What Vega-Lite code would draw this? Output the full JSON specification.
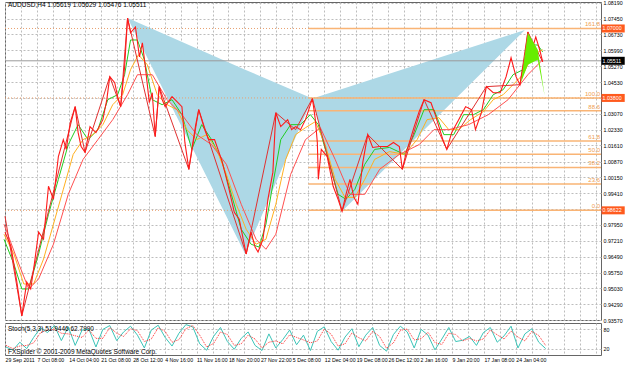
{
"$schema": "https://vega.github.io/schema/vega-lite/v6.json",
"padding": {"left": 1, "top": 0, "right": 0, "bottom": 0},
"background": "white",
"spacing": 3,
"bounds": "flush",
"config": {
  "view": {"stroke": "#666", "strokeWidth": 1},
  "font": "Liberation Sans",
  "axis": {"labelFont": "Liberation Sans", "labelFontSize": 5.3, "labelColor": "#000", "gridColor": "#bdbdbd", "gridDash": [2, 2], "domain": false, "ticks": false, "labelPadding": 2, "labelOverlap": false, "tickCount": 200}
},
"datasets": {
  "tri": [
    {"tri": "XAB", "x": 125, "top": 1.0748, "bot": 1.0748},
    {"tri": "XAB", "x": 244, "top": 1.0510, "bot": 0.9661},
    {"tri": "XAB", "x": 312, "top": 1.0377, "bot": 1.0377},
    {"tri": "BCD", "x": 312, "top": 1.0377, "bot": 1.0377},
    {"tri": "BCD", "x": 342, "top": 1.0421, "bot": 0.9858},
    {"tri": "BCD", "x": 527, "top": 1.0693, "bot": 1.0693}
  ],
  "wedge": [
    {"x": 523, "top": 1.0450, "bot": 1.0450},
    {"x": 530, "top": 1.0680, "bot": 1.0533},
    {"x": 540, "top": 1.0602, "bot": 1.0556},
    {"x": 547, "top": 1.0390, "bot": 1.0390}
  ],
  "fib": [
    {"lvl": "161.8", "p": 1.0700, "full": true},
    {"lvl": "100.0", "p": 1.0380, "full": true},
    {"lvl": "88.6", "p": 1.0321, "full": false},
    {"lvl": "61.8", "p": 1.0182, "full": false},
    {"lvl": "50.0", "p": 1.0121, "full": false},
    {"lvl": "38.2", "p": 1.0060, "full": false},
    {"lvl": "23.6", "p": 0.9984, "full": false},
    {"lvl": "0.0", "p": 0.98622, "full": true}
  ],
  "boxes": [
    {"p": 1.0700, "lab": "1.07000", "kind": "level"},
    {"p": 1.05511, "lab": "1.05511", "kind": "current"},
    {"p": 1.0380, "lab": "1.03800", "kind": "level"},
    {"p": 0.98622, "lab": "0.98622", "kind": "level"}
  ],
  "price": [
    {"x":1,"p":0.9762},{"x":7,"p":0.9697},{"x":13,"p":0.9532},{"x":18,"p":0.9376},{"x":23,"p":0.9532},{"x":27,"p":0.9500},{"x":30,"p":0.9592},{"x":35,"p":0.9762},{"x":40,"p":0.9729},{"x":45,"p":0.9973},{"x":50,"p":0.9913},{"x":55,"p":1.0110},{"x":60,"p":1.0188},{"x":63,"p":1.0143},{"x":67,"p":1.0266},{"x":72,"p":1.0340},{"x":75,"p":1.0220},{"x":78,"p":1.0156},{"x":82,"p":1.0129},{"x":87,"p":1.0248},{"x":93,"p":1.0220},{"x":100,"p":1.0280},{"x":104,"p":1.0372},{"x":107,"p":1.0478},{"x":112,"p":1.0450},{"x":115,"p":1.0386},{"x":118,"p":1.0340},{"x":122,"p":1.0523},{"x":125,"p":1.0748},{"x":128,"p":1.0680},{"x":133,"p":1.0707},{"x":137,"p":1.0569},{"x":140,"p":1.0634},{"x":143,"p":1.0523},{"x":147,"p":1.0358},{"x":150,"p":1.0404},{"x":153,"p":1.0202},{"x":157,"p":1.0432},{"x":160,"p":1.0372},{"x":163,"p":1.0340},{"x":170,"p":1.0386},{"x":175,"p":1.0363},{"x":180,"p":1.0340},{"x":183,"p":1.0175},{"x":187,"p":1.0051},{"x":190,"p":1.0143},{"x":194,"p":1.0257},{"x":197,"p":1.0326},{"x":203,"p":1.0234},{"x":207,"p":1.0188},{"x":213,"p":1.0188},{"x":220,"p":1.0097},{"x":224,"p":1.0028},{"x":227,"p":0.9973},{"x":233,"p":0.9853},{"x":238,"p":0.9821},{"x":242,"p":0.9729},{"x":245,"p":0.9661},{"x":250,"p":0.9762},{"x":254,"p":0.9693},{"x":257,"p":0.9670},{"x":262,"p":0.9729},{"x":267,"p":0.9913},{"x":272,"p":1.0037},{"x":275,"p":1.0312},{"x":280,"p":1.0248},{"x":287,"p":1.0280},{"x":291,"p":1.0234},{"x":295,"p":1.0248},{"x":300,"p":1.0234},{"x":305,"p":1.0280},{"x":312,"p":1.0377},{"x":315,"p":1.0280},{"x":317,"p":1.0175},{"x":318,"p":1.0005},{"x":321,"p":1.0143},{"x":327,"p":1.0110},{"x":333,"p":0.9973},{"x":338,"p":0.9913},{"x":342,"p":0.9858},{"x":346,"p":0.9936},{"x":350,"p":1.0005},{"x":354,"p":0.9922},{"x":358,"p":0.9890},{"x":363,"p":1.0083},{"x":368,"p":1.0211},{"x":373,"p":1.0152},{"x":380,"p":1.0156},{"x":388,"p":1.0156},{"x":394,"p":1.0175},{"x":400,"p":1.0156},{"x":403,"p":1.0051},{"x":407,"p":1.0129},{"x":411,"p":1.0188},{"x":415,"p":1.0248},{"x":420,"p":1.0317},{"x":425,"p":1.0372},{"x":432,"p":1.0358},{"x":437,"p":1.0294},{"x":440,"p":1.0248},{"x":444,"p":1.0188},{"x":448,"p":1.0143},{"x":453,"p":1.0221},{"x":460,"p":1.0280},{"x":467,"p":1.0340},{"x":473,"p":1.0326},{"x":477,"p":1.0234},{"x":483,"p":1.0312},{"x":488,"p":1.0432},{"x":495,"p":1.0404},{"x":502,"p":1.0404},{"x":508,"p":1.0478},{"x":513,"p":1.0565},{"x":518,"p":1.0478},{"x":522,"p":1.0441},{"x":527,"p":1.0569},{"x":530,"p":1.0684},{"x":535,"p":1.0615},{"x":538,"p":1.0661},{"x":542,"p":1.0601},{"x":545,"p":1.0546}
  ],
  "zz": [
    {"x":1,"p":0.9835},{"x":18,"p":0.9376},{"x":72,"p":1.0340},{"x":82,"p":1.0129},{"x":107,"p":1.0478},{"x":118,"p":1.0340},{"x":125,"p":1.0748},{"x":153,"p":1.0202},{"x":157,"p":1.0432},{"x":187,"p":1.0051},{"x":197,"p":1.0326},{"x":245,"p":0.9661},{"x":275,"p":1.0312},{"x":295,"p":1.0234},{"x":312,"p":1.0377},{"x":342,"p":0.9858},{"x":368,"p":1.0211},{"x":403,"p":1.0051},{"x":425,"p":1.0372},{"x":448,"p":1.0143},{"x":488,"p":1.0432},{"x":522,"p":1.0441},{"x":530,"p":1.0684},{"x":545,"p":1.0546}
  ],
  "ma": [
    {"s":"fast","x":0,"p":0.9729},{"s":"fast","x":10,"p":0.9615},{"s":"fast","x":18,"p":0.9500},{"s":"fast","x":25,"p":0.9500},{"s":"fast","x":35,"p":0.9661},{"s":"fast","x":45,"p":0.9844},{"s":"fast","x":55,"p":1.0005},{"s":"fast","x":65,"p":1.0165},{"s":"fast","x":75,"p":1.0257},{"s":"fast","x":85,"p":1.0188},{"s":"fast","x":95,"p":1.0234},{"s":"fast","x":105,"p":1.0372},{"s":"fast","x":115,"p":1.0395},{"s":"fast","x":122,"p":1.0487},{"s":"fast","x":128,"p":1.0647},{"s":"fast","x":135,"p":1.0647},{"s":"fast","x":142,"p":1.0556},{"s":"fast","x":150,"p":1.0372},{"s":"fast","x":160,"p":1.0349},{"s":"fast","x":170,"p":1.0372},{"s":"fast","x":180,"p":1.0303},{"s":"fast","x":190,"p":1.0143},{"s":"fast","x":200,"p":1.0257},{"s":"fast","x":210,"p":1.0188},{"s":"fast","x":220,"p":1.0097},{"s":"fast","x":230,"p":0.9936},{"s":"fast","x":240,"p":0.9775},{"s":"fast","x":250,"p":0.9706},{"s":"fast","x":258,"p":0.9693},{"s":"fast","x":265,"p":0.9798},{"s":"fast","x":272,"p":0.9982},{"s":"fast","x":280,"p":1.0188},{"s":"fast","x":290,"p":1.0257},{"s":"fast","x":300,"p":1.0257},{"s":"fast","x":310,"p":1.0303},{"s":"fast","x":318,"p":1.0257},{"s":"fast","x":328,"p":1.0097},{"s":"fast","x":338,"p":0.9936},{"s":"fast","x":346,"p":0.9913},{"s":"fast","x":355,"p":0.9959},{"s":"fast","x":365,"p":1.0074},{"s":"fast","x":375,"p":1.0143},{"s":"fast","x":390,"p":1.0152},{"s":"fast","x":405,"p":1.0120},{"s":"fast","x":415,"p":1.0211},{"s":"fast","x":425,"p":1.0326},{"s":"fast","x":435,"p":1.0326},{"s":"fast","x":445,"p":1.0211},{"s":"fast","x":455,"p":1.0211},{"s":"fast","x":465,"p":1.0303},{"s":"fast","x":475,"p":1.0303},{"s":"fast","x":485,"p":1.0326},{"s":"fast","x":495,"p":1.0395},{"s":"fast","x":505,"p":1.0418},{"s":"fast","x":515,"p":1.0487},{"s":"fast","x":525,"p":1.0510},{"s":"fast","x":532,"p":1.0624},{"s":"fast","x":540,"p":1.0624},{"s":"fast","x":545,"p":1.0592},
    {"s":"mid","x":0,"p":0.9752},{"s":"mid","x":10,"p":0.9661},{"s":"mid","x":20,"p":0.9523},{"s":"mid","x":30,"p":0.9523},{"s":"mid","x":40,"p":0.9638},{"s":"mid","x":50,"p":0.9798},{"s":"mid","x":60,"p":0.9959},{"s":"mid","x":70,"p":1.0120},{"s":"mid","x":80,"p":1.0188},{"s":"mid","x":90,"p":1.0211},{"s":"mid","x":100,"p":1.0257},{"s":"mid","x":110,"p":1.0349},{"s":"mid","x":120,"p":1.0395},{"s":"mid","x":128,"p":1.0510},{"s":"mid","x":136,"p":1.0579},{"s":"mid","x":145,"p":1.0533},{"s":"mid","x":155,"p":1.0395},{"s":"mid","x":165,"p":1.0349},{"s":"mid","x":175,"p":1.0326},{"s":"mid","x":185,"p":1.0234},{"s":"mid","x":195,"p":1.0188},{"s":"mid","x":205,"p":1.0211},{"s":"mid","x":215,"p":1.0143},{"s":"mid","x":225,"p":1.0028},{"s":"mid","x":235,"p":0.9890},{"s":"mid","x":245,"p":0.9775},{"s":"mid","x":255,"p":0.9706},{"s":"mid","x":265,"p":0.9729},{"s":"mid","x":275,"p":0.9890},{"s":"mid","x":285,"p":1.0097},{"s":"mid","x":295,"p":1.0211},{"s":"mid","x":305,"p":1.0243},{"s":"mid","x":315,"p":1.0271},{"s":"mid","x":325,"p":1.0165},{"s":"mid","x":335,"p":1.0005},{"s":"mid","x":345,"p":0.9922},{"s":"mid","x":355,"p":0.9922},{"s":"mid","x":365,"p":1.0005},{"s":"mid","x":375,"p":1.0097},{"s":"mid","x":390,"p":1.0133},{"s":"mid","x":405,"p":1.0120},{"s":"mid","x":418,"p":1.0188},{"s":"mid","x":428,"p":1.0280},{"s":"mid","x":440,"p":1.0289},{"s":"mid","x":450,"p":1.0234},{"s":"mid","x":460,"p":1.0234},{"s":"mid","x":472,"p":1.0280},{"s":"mid","x":485,"p":1.0317},{"s":"mid","x":495,"p":1.0372},{"s":"mid","x":505,"p":1.0395},{"s":"mid","x":515,"p":1.0441},{"s":"mid","x":525,"p":1.0487},{"s":"mid","x":535,"p":1.0579},{"s":"mid","x":545,"p":1.0602},
    {"s":"slow","x":0,"p":0.9798},{"s":"slow","x":15,"p":0.9615},{"s":"slow","x":25,"p":0.9500},{"s":"slow","x":35,"p":0.9546},{"s":"slow","x":50,"p":0.9706},{"s":"slow","x":65,"p":0.9936},{"s":"slow","x":80,"p":1.0097},{"s":"slow","x":95,"p":1.0188},{"s":"slow","x":110,"p":1.0280},{"s":"slow","x":125,"p":1.0395},{"s":"slow","x":135,"p":1.0487},{"s":"slow","x":150,"p":1.0487},{"s":"slow","x":165,"p":1.0372},{"s":"slow","x":180,"p":1.0303},{"s":"slow","x":195,"p":1.0211},{"s":"slow","x":210,"p":1.0165},{"s":"slow","x":225,"p":1.0074},{"s":"slow","x":240,"p":0.9890},{"s":"slow","x":255,"p":0.9729},{"s":"slow","x":265,"p":0.9683},{"s":"slow","x":275,"p":0.9752},{"s":"slow","x":290,"p":1.0028},{"s":"slow","x":305,"p":1.0188},{"s":"slow","x":320,"p":1.0243},{"s":"slow","x":335,"p":1.0097},{"s":"slow","x":350,"p":0.9936},{"s":"slow","x":365,"p":0.9936},{"s":"slow","x":380,"p":1.0051},{"s":"slow","x":400,"p":1.0120},{"s":"slow","x":420,"p":1.0165},{"s":"slow","x":435,"p":1.0234},{"s":"slow","x":450,"p":1.0234},{"s":"slow","x":470,"p":1.0257},{"s":"slow","x":490,"p":1.0303},{"s":"slow","x":510,"p":1.0372},{"s":"slow","x":530,"p":1.0487},{"s":"slow","x":545,"p":1.0556}
  ],
  "stoch": [
    {"x":2,"k":25,"d":30},{"x":9,"k":15,"d":20},{"x":16,"k":40,"d":28},{"x":23,"k":20,"d":30},{"x":30,"k":55,"d":38},{"x":37,"k":85,"d":70},{"x":44,"k":70,"d":78},{"x":51,"k":92,"d":80},{"x":58,"k":45,"d":68},{"x":65,"k":88,"d":66},{"x":72,"k":30,"d":60},{"x":79,"k":78,"d":55},{"x":86,"k":80,"d":78},{"x":93,"k":25,"d":52},{"x":100,"k":80,"d":52},{"x":107,"k":92,"d":86},{"x":114,"k":45,"d":68},{"x":121,"k":72,"d":58},{"x":128,"k":90,"d":82},{"x":135,"k":62,"d":76},{"x":142,"k":22,"d":42},{"x":149,"k":78,"d":50},{"x":156,"k":93,"d":85},{"x":163,"k":55,"d":74},{"x":170,"k":28,"d":40},{"x":177,"k":68,"d":48},{"x":184,"k":95,"d":82},{"x":191,"k":88,"d":92},{"x":198,"k":35,"d":62},{"x":205,"k":15,"d":25},{"x":212,"k":58,"d":36},{"x":219,"k":86,"d":72},{"x":226,"k":42,"d":64},{"x":233,"k":18,"d":30},{"x":240,"k":52,"d":35},{"x":247,"k":72,"d":62},{"x":254,"k":30,"d":50},{"x":261,"k":14,"d":22},{"x":268,"k":66,"d":40},{"x":275,"k":22,"d":44},{"x":282,"k":48,"d":35},{"x":289,"k":78,"d":63},{"x":296,"k":32,"d":55},{"x":303,"k":62,"d":47},{"x":310,"k":14,"d":38},{"x":317,"k":74,"d":44},{"x":324,"k":88,"d":81},{"x":331,"k":42,"d":65},{"x":338,"k":15,"d":28},{"x":345,"k":56,"d":35},{"x":352,"k":82,"d":69},{"x":359,"k":26,"d":54},{"x":366,"k":62,"d":44},{"x":373,"k":86,"d":74},{"x":380,"k":30,"d":58},{"x":387,"k":12,"d":21},{"x":394,"k":64,"d":38},{"x":401,"k":90,"d":77},{"x":408,"k":72,"d":81},{"x":415,"k":22,"d":47},{"x":422,"k":80,"d":51},{"x":429,"k":62,"d":71},{"x":436,"k":16,"d":39},{"x":443,"k":50,"d":33},{"x":450,"k":86,"d":68},{"x":457,"k":42,"d":64},{"x":464,"k":46,"d":44},{"x":471,"k":58,"d":52},{"x":478,"k":30,"d":44},{"x":485,"k":70,"d":50},{"x":492,"k":86,"d":78},{"x":499,"k":40,"d":63},{"x":506,"k":60,"d":50},{"x":513,"k":90,"d":75},{"x":520,"k":22,"d":56},{"x":527,"k":66,"d":44},{"x":534,"k":82,"d":74},{"x":541,"k":40,"d":61},{"x":548,"k":20,"d":30}
  ]
},
"vconcat": [
  {
    "width": 596,
    "height": 318,
    "layer": [
      {
        "data": {"name": "tri"},
        "mark": {"type": "area", "color": "#add8e6", "opacity": 1},
        "encoding": {
          "x": {"field": "x", "type": "quantitative", "title": null, "scale": {"domain": [1, 604], "nice": false, "zero": false},
                "axis": {"title": null, "orient": "bottom", "labels": false, "ticks": false, "grid": true, "minExtent": 0, "maxExtent": 0, "tickCount": 200,
                         "values": [1,17.15,33.3,49.45,65.6,81.75,97.9,114.05,130.2,146.35,162.5,178.65,194.8,210.95,227.1,243.25,259.4,275.55,291.7,307.85,324,340.15,356.3,372.45,388.6,404.75,420.9,437.05,453.2,469.35,485.5,501.65,517.8,533.95,550.1,566.25,582.4,598.55]}},
          "y": {"field": "top", "type": "quantitative", "title": null, "scale": {"domain": [0.9357, 1.0822], "nice": false, "zero": false},
                "axis": {"title": null, "orient": "right", "format": ".5f", "grid": true, "labelBaseline": "middle", "labelOverlap": false, "labelBound": false, "labelFlush": false, "tickCount": 200,
                         "values": [0.9357,0.9429,0.9503,0.9575,0.9649,0.9721,0.9795,0.9867,0.9941,1.0015,1.0087,1.0161,1.0233,1.0307,1.0379,1.0453,1.0527,1.0599,1.0673,1.0745,1.0819]}},
          "y2": {"field": "bot"},
          "detail": {"field": "tri"}
        }
      },
      {
        "data": {"name": "fib"},
        "transform": [{"filter": "datum.full"}],
        "mark": {"type": "rule", "color": "#e8a070", "strokeDash": [1, 2], "strokeWidth": 1},
        "encoding": {
          "x": {"datum": 1, "type": "quantitative", "title": null},
          "x2": {"datum": 604},
          "y": {"field": "p", "type": "quantitative", "title": null}
        }
      },
      {
        "data": {"name": "fib"},
        "mark": {"type": "rule", "color": "#f9b475", "strokeWidth": 1.5},
        "encoding": {
          "x": {"datum": 308, "type": "quantitative", "title": null},
          "x2": {"datum": 604},
          "y": {"field": "p", "type": "quantitative", "title": null}
        }
      },
      {
        "data": {"name": "fib"},
        "mark": {"type": "text", "color": "#f0a050", "fontSize": 6, "align": "right", "baseline": "bottom", "dy": -1},
        "encoding": {
          "x": {"datum": 603, "type": "quantitative", "title": null},
          "y": {"field": "p", "type": "quantitative", "title": null},
          "text": {"field": "lvl"}
        }
      },
      {
        "data": {"values": [{"p": 1.05511}]},
        "mark": {"type": "rule", "color": "#9a9a9a", "strokeWidth": 1},
        "encoding": {
          "x": {"datum": 1, "type": "quantitative", "title": null},
          "x2": {"datum": 604},
          "y": {"field": "p", "type": "quantitative", "title": null}
        }
      },
      {
        "data": {"name": "ma"},
        "mark": {"type": "line", "strokeWidth": 1},
        "encoding": {
          "x": {"field": "x", "type": "quantitative", "title": null},
          "y": {"field": "p", "type": "quantitative", "title": null},
          "color": {"field": "s", "type": "nominal", "legend": null, "scale": {"domain": ["fast", "mid", "slow"], "range": ["#22cc22", "#ffb020", "#ff5050"]}}
        }
      },
      {
        "data": {"name": "zz"},
        "mark": {"type": "line", "color": "#e03030", "strokeWidth": 1},
        "encoding": {
          "x": {"field": "x", "type": "quantitative", "title": null},
          "y": {"field": "p", "type": "quantitative", "title": null}
        }
      },
      {
        "data": {"name": "price"},
        "mark": {"type": "line", "color": "#ff1a1a", "strokeWidth": 1.1},
        "encoding": {
          "x": {"field": "x", "type": "quantitative", "title": null},
          "y": {"field": "p", "type": "quantitative", "title": null}
        }
      },
      {
        "data": {"name": "wedge"},
        "mark": {"type": "area", "color": "#66ee00", "opacity": 1},
        "encoding": {
          "x": {"field": "x", "type": "quantitative", "title": null},
          "y": {"field": "top", "type": "quantitative", "title": null},
          "y2": {"field": "bot"}
        }
      },
      {
        "data": {"values": [{"t": "AUDUSD,H4  1.05619 1.05629 1.05476 1.05511"}]},
        "mark": {"type": "text", "fontSize": 6.5, "align": "left", "baseline": "middle", "color": "#000"},
        "encoding": {
          "x": {"datum": 4, "type": "quantitative", "title": null},
          "y": {"datum": 1.0807, "type": "quantitative", "title": null},
          "text": {"field": "t"}
        }
      },
      {
        "data": {"name": "boxes"},
        "transform": [{"filter": "datum.kind == 'level'"}],
        "mark": {"type": "rule", "strokeWidth": 8, "strokeCap": "butt", "color": "#ff5a1e"},
        "encoding": {
          "x": {"datum": 604.5, "type": "quantitative", "title": null},
          "x2": {"datum": 628},
          "y": {"field": "p", "type": "quantitative", "title": null}
        }
      },
      {
        "data": {"name": "boxes"},
        "transform": [{"filter": "datum.kind == 'current'"}],
        "mark": {"type": "rule", "strokeWidth": 8, "strokeCap": "butt", "color": "#000000"},
        "encoding": {
          "x": {"datum": 604.5, "type": "quantitative", "title": null},
          "x2": {"datum": 628},
          "y": {"field": "p", "type": "quantitative", "title": null}
        }
      },
      {
        "data": {"name": "boxes"},
        "mark": {"type": "text", "fontSize": 5.3, "align": "left", "baseline": "middle", "color": "#ffffff"},
        "encoding": {
          "x": {"datum": 605.5, "type": "quantitative", "title": null},
          "y": {"field": "p", "type": "quantitative", "title": null},
          "text": {"field": "lab"}
        }
      }
    ]
  },
  {
    "width": 596,
    "height": 32,
    "layer": [
      {
        "data": {"name": "stoch"},
        "mark": {"type": "line", "color": "#3cc4b8", "strokeWidth": 1},
        "encoding": {
          "x": {"field": "x", "type": "quantitative", "title": null, "scale": {"domain": [1, 604], "nice": false, "zero": false},
                "axis": {"title": null, "orient": "bottom", "grid": true, "ticks": false, "labelAlign": "left", "labelBaseline": "top", "labelFlush": false, "labelOverlap": false, "labelBound": false, "labelPadding": 2, "labelFontSize": 5.2, "tickCount": 200,
                         "values": [1,17.15,33.3,49.45,65.6,81.75,97.9,114.05,130.2,146.35,162.5,178.65,194.8,210.95,227.1,243.25,259.4,275.55,291.7,307.85,324,340.15,356.3,372.45,388.6,404.75,420.9,437.05,453.2,469.35,485.5,501.65,517.8,533.95,550.1,566.25,582.4,598.55],
                         "labelExpr": "(round((datum.value-1)/16.15)%2==0) ? ['29 Sep 2011','7 Oct 08:00','14 Oct 04:00','21 Oct 08:00','28 Oct 12:00','4 Nov 16:00','11 Nov 16:00','18 Nov 20:00','27 Nov 22:00','5 Dec 08:00','12 Dec 04:00','19 Dec 08:00','26 Dec 12:00','2 Jan 16:00','9 Jan 20:00','17 Jan 08:00','24 Jan 04:00','',''][round((datum.value-1)/16.15)/2] : ''"}},
          "y": {"field": "k", "type": "quantitative", "title": null, "scale": {"domain": [0, 100], "nice": false},
                "axis": {"title": null, "orient": "right", "values": [20, 80], "format": "d", "grid": true, "labelBaseline": "middle", "labelOverlap": false}}
        }
      },
      {
        "data": {"name": "stoch"},
        "mark": {"type": "line", "color": "#ff3030", "strokeWidth": 1, "strokeDash": [1, 1]},
        "encoding": {
          "x": {"field": "x", "type": "quantitative", "title": null},
          "y": {"field": "d", "type": "quantitative", "title": null}
        }
      },
      {
        "data": {"values": [{"t": "Stoch(5,3,3) 51.9446 62.7990", "v": 80}, {"t": "FXSpider © 2001-2009 MetaQuotes Software Corp.", "v": 10}]},
        "mark": {"type": "text", "fontSize": 6.5, "align": "left", "baseline": "middle", "color": "#000"},
        "encoding": {
          "x": {"datum": 4, "type": "quantitative", "title": null},
          "y": {"field": "v", "type": "quantitative", "title": null},
          "text": {"field": "t"}
        }
      }
    ]
  }
]
}
